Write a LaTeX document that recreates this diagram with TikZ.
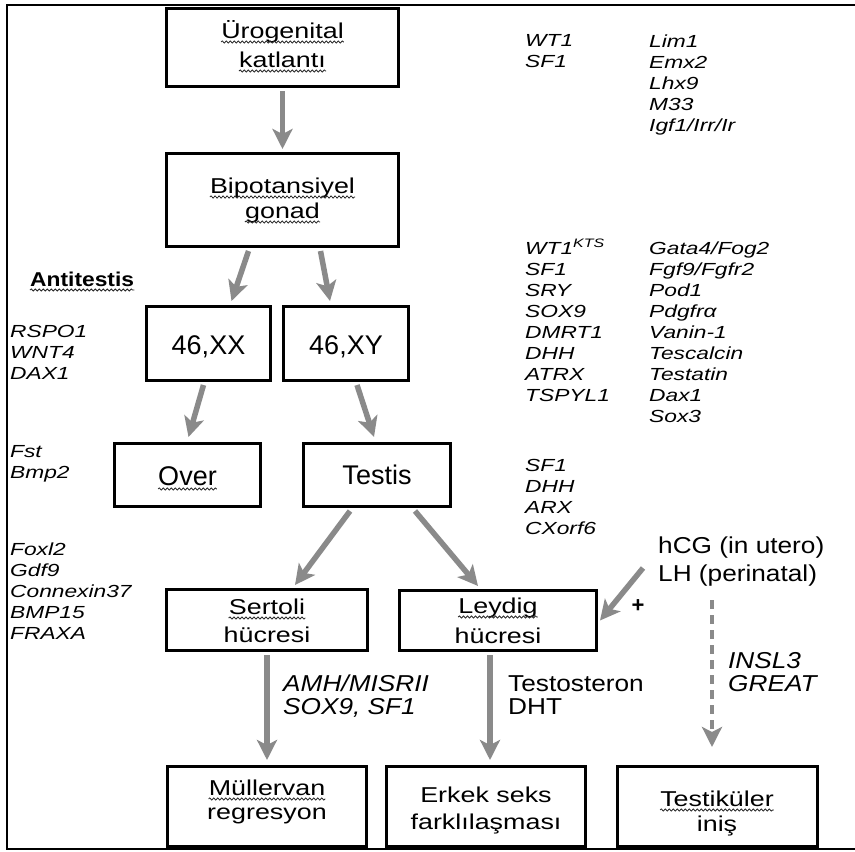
\documentclass[tikz,border=0pt]{standalone}
\usepackage{fontspec}
\setmainfont{Liberation Sans}
\newfontfamily\genef[FakeStretch=1.3]{Liberation Sans}
\newfontfamily\boxf[FakeStretch=1.25]{Liberation Sans}
\newfontfamily\labf[FakeStretch=1.14]{Liberation Sans}
\usetikzlibrary{arrows.meta,decorations.pathmorphing}
\definecolor{arrgray}{RGB}{138,138,138}
\tikzset{
  box/.style={draw, line width=3pt, inner sep=0pt},
  btxt/.style={anchor=base, inner sep=0pt, font=\boxf\fontsize{21.5}{29}\selectfont},
  bigtxt/.style={anchor=base, inner sep=0pt, font=\fontsize{27}{32}\selectfont},
  gene/.style={anchor=base west, inner sep=0pt, font=\genef\itshape\fontsize{17.5}{21}\selectfont},
  lab/.style={anchor=base west, inner sep=0pt, font=\labf\fontsize{23}{27}\selectfont},
  ilab/.style={lab, font=\labf\itshape\fontsize{23}{27}\selectfont},
  wave/.style={draw=black!85, line width=0.8pt, decorate, decoration={snake, amplitude=1.1pt, segment length=4pt}},
  garrow/.style={draw=arrgray, line width=5.5pt, -{Stealth[length=20pt,width=20pt,inset=5pt]}},
}
\newcommand{\wv}[1]{\draw[wave] ([yshift=-4pt]#1.base west) -- ([yshift=-4pt]#1.base east);}
\begin{document}
\begin{tikzpicture}[x=1pt,y=-1pt]
\useasboundingbox[fill=white] (0,0) rectangle (855,852);
% frame
\draw[line width=1.5pt] (855,5) -- (7,5) -- (7,849) -- (855,849);
% boxes
\node[box, minimum width=232pt, minimum height=78pt] (uro) at (282.5,47.5) {};
\node[box, minimum width=232pt, minimum height=93pt] (bip) at (282.5,200) {};
\node[box, minimum width=124pt, minimum height=74pt] (xx) at (208.5,343.5) {};
\node[box, minimum width=125pt, minimum height=74pt] (xy) at (346,343.5) {};
\node[box, minimum width=146pt, minimum height=63pt] (over) at (187.5,475) {};
\node[box, minimum width=147pt, minimum height=63pt] (testis) at (377,475) {};
\node[box, minimum width=201pt, minimum height=61pt] (sertoli) at (267,620) {};
\node[box, minimum width=197pt, minimum height=60pt] (leydig) at (498,620.5) {};
\node[box, minimum width=199pt, minimum height=80pt] (mull) at (267,806.5) {};
\node[box, minimum width=199pt, minimum height=80pt] (erkek) at (486,806.5) {};
\node[box, minimum width=200pt, minimum height=80pt] (inis) at (717,806.5) {};
% box texts
\node[btxt] (uro1) at (282.5,38) {Ürogenital}; \wv{uro1}
\node[btxt] (uro2) at (282.5,67) {katlantı}; \wv{uro2}
\node[btxt] (bip1) at (282.5,193) {Bipotansiyel}; \wv{bip1}
\node[btxt] (bip2) at (282.5,218) {gonad}; \wv{bip2}
\node[bigtxt] (xxt) at (208.5,354) {46,XX};
\node[bigtxt] (xyt) at (346,354) {46,XY};
\node[bigtxt] (overt) at (187.5,485) {Over}; \wv{overt}
\node[bigtxt] (testist) at (377,484) {Testis};
\node[btxt] (ser1) at (267,614) {Sertoli}; \wv{ser1}
\node[btxt] (ser2) at (267,642) {hücresi};
\node[btxt] (ley1) at (498,613) {Leydig}; \wv{ley1}
\node[btxt] (ley2) at (498,643) {hücresi};
\node[btxt] (mul1) at (267,795) {Müllervan}; \wv{mul1}
\node[btxt] (mul2) at (267,819) {regresyon};
\node[btxt] (erk1) at (486,802) {Erkek seks};
\node[btxt] (erk2) at (486,829) {farklılaşması};
\node[btxt] (ini1) at (717,806) {Testiküler}; \wv{ini1}
\node[btxt] (ini2) at (717,831) {iniş};
% side texts
\node[anchor=base west, inner sep=0pt, font=\labf\bfseries\fontsize{20}{24}\selectfont] (anti) at (30,286) {Antitestis}; \wv{anti}
\foreach \t [count=\i from 0] in {RSPO1,WNT4,DAX1} \node[gene] (la\i) at (10,337+21*\i) {\t};
\foreach \t [count=\i from 0] in {Fst,Bmp2} \node[gene] (lb\i) at (10,457+21*\i) {\t};
\foreach \t [count=\i from 0] in {Foxl2,Gdf9,Connexin37,BMP15,FRAXA} \node[gene] (lc\i) at (10,555+21*\i) {\t};
\foreach \t [count=\i from 0] in {WT1,SF1} \node[gene] (ra\i) at (525,46+21*\i) {\t};
\foreach \t [count=\i from 0] in {Lim1,Emx2,Lhx9,M33,Igf1/Irr/Ir} \node[gene] (rb\i) at (649,47+21*\i) {\t};
\foreach \t [count=\i from 0] in {WT1\textsuperscript{KTS},SF1,SRY,SOX9,DMRT1,DHH,ATRX,TSPYL1} \node[gene] (rc\i) at (525,254+21*\i) {\t};
\foreach \t [count=\i from 0] in {Gata4/Fog2,Fgf9/Fgfr2,Pod1,Pdgfrα,Vanin-1,Tescalcin,Testatin,Dax1,Sox3} \node[gene] (rd\i) at (649,254+21*\i) {\t};
\foreach \t [count=\i from 0] in {SF1,DHH,ARX,CXorf6} \node[gene] (re\i) at (525,471+21*\i) {\t};
\node[lab] (hcg) at (658,553) {hCG (in utero)};
\node[lab] (lh) at (658,581) {LH (perinatal)};
\node[inner sep=0pt, font=\bfseries\fontsize{22}{22}\selectfont] (plus) at (638,606) {+};
\node[ilab] (amh) at (283,691) {AMH/MISRII};
\node[ilab] (sox) at (283,714) {SOX9, SF1};
\node[lab] (testo) at (508,691) {Testosteron};
\node[lab] (dht) at (508,714) {DHT};
\node[ilab] (insl) at (728,668) {INSL3};
\node[ilab] (great) at (728,691) {GREAT};
% arrows
\draw[garrow] ([yshift=-3pt]uro.south) -- ([yshift=3pt]bip.north);
\draw[garrow] ([xshift=-34pt,yshift=-3pt]bip.south) -- ([xshift=23pt,yshift=4pt]xx.north);
\draw[garrow] ([xshift=38pt,yshift=-3pt]bip.south) -- ([xshift=-16pt,yshift=4pt]xy.north);
\draw[garrow] ([xshift=-5pt,yshift=-3pt]xx.south) -- ([xshift=1pt,yshift=5pt]over.north);
\draw[garrow] ([xshift=11pt,yshift=-3pt]xy.south) -- ([xshift=-3pt,yshift=5pt]testis.north);
\draw[garrow] ([xshift=-27pt,yshift=-3pt]testis.south) -- ([xshift=28pt,yshift=3pt]sertoli.north);
\draw[garrow] ([xshift=38pt,yshift=-3pt]testis.south) -- ([xshift=-20pt,yshift=3pt]leydig.north);
\coordinate (hst) at (643,568);
\draw[garrow] (hst) -- ([xshift=2pt]leydig.east);
\draw[garrow] ([yshift=-3pt]sertoli.south) -- ([yshift=5pt]sertoli.south |- mull.north);
\draw[garrow] ([xshift=-8pt,yshift=-3pt]leydig.south) -- ([xshift=-8pt,yshift=5pt]leydig.south |- erkek.north);
\coordinate (dst) at (712,600);
\draw[garrow, line width=4.5pt, dash pattern=on 9pt off 6pt] (dst) -- ([yshift=18pt]dst |- inis.north);
\end{tikzpicture}
\end{document}
